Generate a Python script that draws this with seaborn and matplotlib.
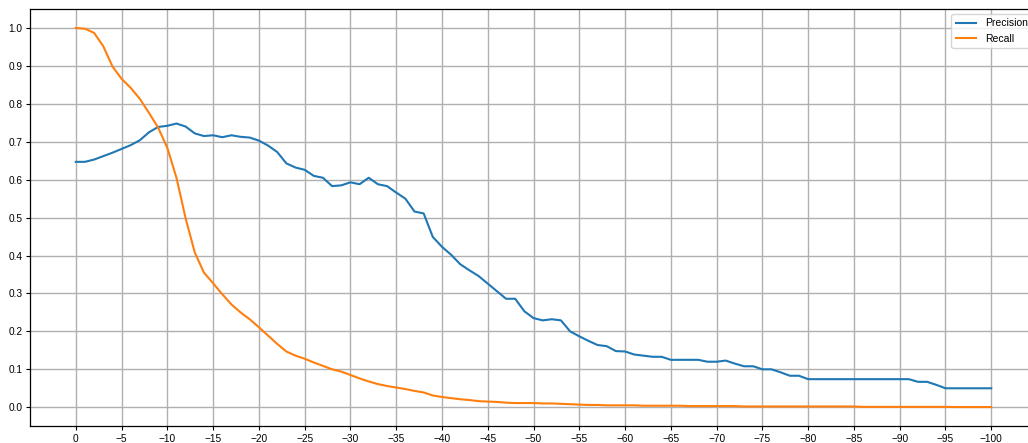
import matplotlib
matplotlib.use("Agg")
import matplotlib.pyplot as plt
import seaborn as sns
import pandas as pd
from matplotlib.ticker import FixedLocator, MultipleLocator

thresholds = list(range(0, -101, -1))
x_ticks = list(range(0, -101, -5))

precision = [
    0.647, 0.647, 0.653, 0.662, 0.671, 0.681, 0.691, 0.704, 0.725, 0.739,
    0.742, 0.748, 0.740, 0.722, 0.715, 0.717, 0.712, 0.717, 0.713, 0.711,
    0.703, 0.690, 0.673, 0.643, 0.632, 0.626, 0.610, 0.605, 0.583, 0.585,
    0.593, 0.588, 0.605, 0.588, 0.583, 0.566, 0.550, 0.516, 0.511, 0.449,
    0.423, 0.402, 0.377, 0.361, 0.346, 0.326, 0.306, 0.286, 0.286, 0.253,
    0.235, 0.229, 0.232, 0.229, 0.200, 0.187, 0.175, 0.164, 0.161, 0.148,
    0.147, 0.139, 0.136, 0.133, 0.133, 0.125, 0.125, 0.125, 0.125, 0.120,
    0.120, 0.123, 0.115, 0.108, 0.108, 0.100, 0.100, 0.092, 0.083, 0.083,
    0.074, 0.074, 0.074, 0.074, 0.074, 0.074, 0.074, 0.074, 0.074, 0.074,
    0.074, 0.074, 0.067, 0.067, 0.059, 0.050, 0.050, 0.050, 0.050, 0.050,
    0.050,
]

recall = [
    1.000, 0.998, 0.987, 0.952, 0.899, 0.866, 0.842, 0.813, 0.776, 0.737,
    0.684, 0.605, 0.498, 0.408, 0.355, 0.327, 0.298, 0.271, 0.250, 0.232,
    0.211, 0.189, 0.167, 0.147, 0.136, 0.128, 0.118, 0.109, 0.100, 0.094,
    0.085, 0.076, 0.068, 0.061, 0.056, 0.052, 0.048, 0.043, 0.039, 0.031,
    0.027, 0.024, 0.021, 0.019, 0.016, 0.015, 0.014, 0.012, 0.011, 0.011,
    0.011, 0.010, 0.010, 0.009, 0.008, 0.007, 0.006, 0.006, 0.005, 0.005,
    0.005, 0.005, 0.004, 0.004, 0.004, 0.004, 0.004, 0.003, 0.003, 0.003,
    0.003, 0.003, 0.003, 0.002, 0.002, 0.002, 0.002, 0.002, 0.002, 0.002,
    0.002, 0.002, 0.002, 0.002, 0.002, 0.002, 0.001, 0.001, 0.001, 0.001,
    0.001, 0.001, 0.001, 0.001, 0.001, 0.001, 0.0005, 0.0005, 0.0005, 0.0005,
    0.0005,
]

series_names = ["Precision", "Recall"]
colors = ["#1f77b4", "#ff7f0e"]

df = pd.concat([
    pd.DataFrame({"threshold": thresholds, "value": precision, "metric": series_names[0]}),
    pd.DataFrame({"threshold": thresholds, "value": recall, "metric": series_names[1]}),
])

plt.rcParams["font.family"] = ["Liberation Sans", "DejaVu Sans"]
plt.rcParams["font.size"] = 7

fig = plt.figure(figsize=(10.28, 4.43), dpi=100)
ax = fig.add_axes([30 / 1028, 17 / 443, 1007 / 1028, 417 / 443])

sns.lineplot(data=df, x="threshold", y="value", hue="metric",
             palette=dict(zip(series_names, colors)), linewidth=1.5, ax=ax)

ax.invert_xaxis()
ax.xaxis.set_major_locator(FixedLocator(x_ticks))
ax.yaxis.set_major_locator(MultipleLocator(0.1))
ax.set_xlabel("")
ax.set_ylabel("")
ax.grid(True, color="#b0b0b0", linewidth=1.0)
ax.set_axisbelow(True)
for s in ax.spines.values():
    s.set_color("black")
    s.set_linewidth(0.9)
ax.tick_params(axis="both", labelsize=7.3, length=3, width=0.8, colors="black", pad=2.5)
leg = ax.legend(loc="upper right", fontsize=7.5, frameon=True)
leg.get_frame().set_edgecolor("#cccccc")

fig.savefig("out.png", dpi=100)
